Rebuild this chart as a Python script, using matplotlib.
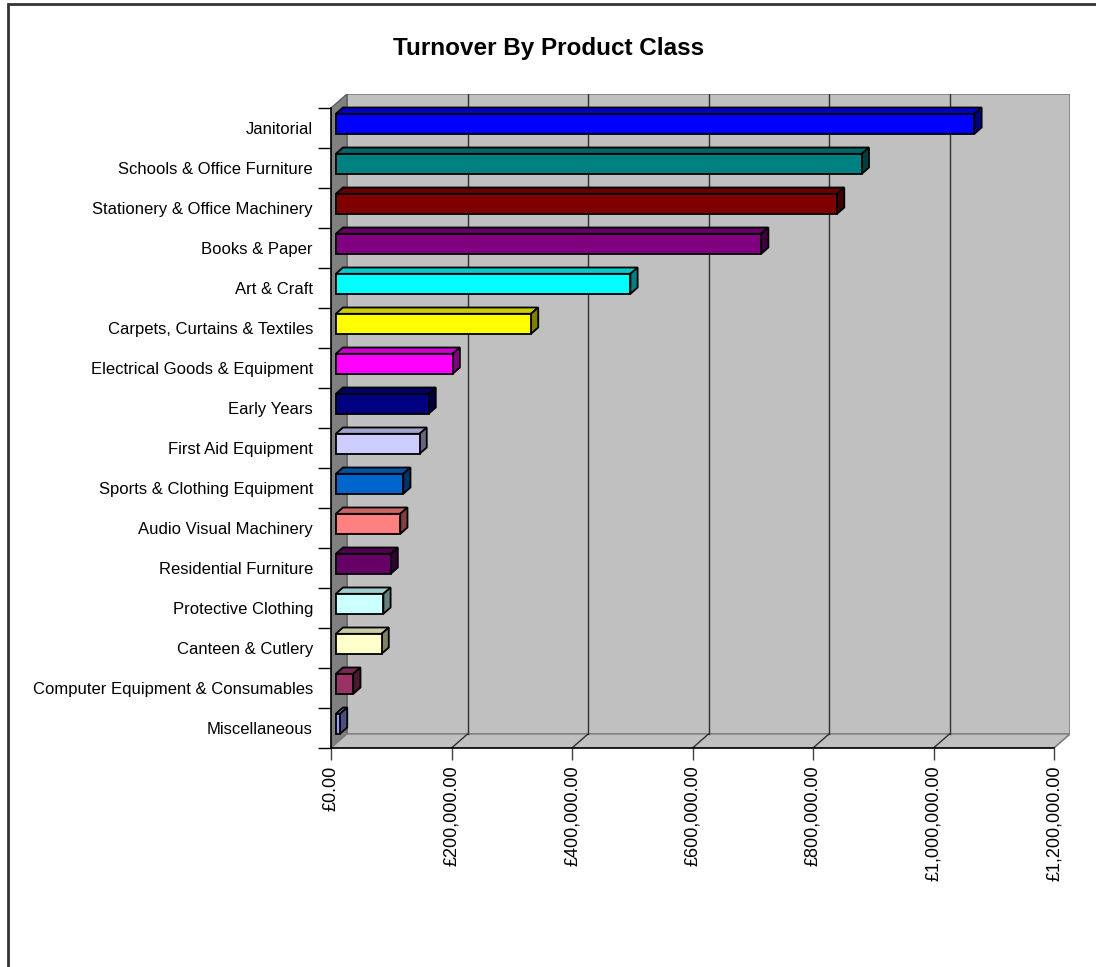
import numpy as np
import matplotlib.pyplot as plt
from matplotlib.patches import Polygon, Rectangle
from matplotlib.ticker import FuncFormatter

plt.rcParams['font.family'] = ['Liberation Sans', 'DejaVu Sans']

categories = ["Janitorial", "Schools & Office Furniture", "Stationery & Office Machinery",
              "Books & Paper", "Art & Craft", "Carpets, Curtains & Textiles",
              "Electrical Goods & Equipment", "Early Years", "First Aid Equipment",
              "Sports & Clothing Equipment", "Audio Visual Machinery", "Residential Furniture",
              "Protective Clothing", "Canteen & Cutlery", "Computer Equipment & Consumables",
              "Miscellaneous"]
turnover = [1060000, 873000, 832000, 706000, 489000, 324000, 194000, 154000,
            139000, 112000, 107000, 91000, 79000, 76000, 29000, 7000]
colors = ["#0000FF", "#008080", "#800000", "#800080", "#00FFFF", "#FFFF00", "#FF00FF",
          "#000080", "#CCCCFF", "#0066CC", "#FF8080", "#660066", "#CCFFFF", "#FFFFCC",
          "#993366", "#9999FF"]
xticks = [0, 200000, 400000, 600000, 800000, 1000000, 1200000]

W, H = 1096, 967
fig = plt.figure(figsize=(W / 100, H / 100), dpi=100)

# frame round the chart area
fig.patches.append(Rectangle((8 / W, -0.1), 1.2, 1 - 4 / H + 0.1, transform=fig.transFigure,
                             fill=False, edgecolor="#333333", linewidth=2))

xmax = xticks[-1]
n = len(categories)
# depth of the 3d box, in data units
DX = 16 * xmax / 723.0
DY = 0.35

ax = fig.add_axes([331 / W, 1 - 748 / H, 739 / W, 654 / H])
ax.set_xlim(0, xmax + DX)
ax.set_ylim(0, n + DY)
ax.patch.set_visible(False)

# walls and floor
wall = "#C0C0C0"
ax.add_patch(Polygon([(DX, DY), (xmax + DX, DY), (xmax + DX, n + DY), (DX, n + DY)],
                     closed=True, facecolor=wall, edgecolor="#808080", linewidth=1.2, zorder=0))
ax.add_patch(Polygon([(0, 0), (DX, DY), (DX, n + DY), (0, n)],
                     closed=True, facecolor="#808080", edgecolor="#606060", linewidth=1, zorder=0))
ax.add_patch(Polygon([(0, 0), (xmax, 0), (xmax + DX, DY), (DX, DY)],
                     closed=True, facecolor=wall, edgecolor="#808080", linewidth=1, zorder=0))

# gridlines on wall and floor
for v in xticks[1:-1]:
    ax.plot([v + DX, v + DX], [DY, n + DY], color="#303030", linewidth=1, zorder=1)
    ax.plot([v, v + DX], [0, DY], color="#303030", linewidth=1, zorder=1)
ax.plot([xmax, xmax + DX], [0, DY], color="#808080", linewidth=1, zorder=1)


def shade(c, k):
    c = np.array(plt.matplotlib.colors.to_rgb(c))
    return tuple(c * k)


# bars
f0, f1 = 0.3, 0.75
bh = 0.5
for i, (val, col) in enumerate(zip(turnover, colors)):
    yc = n - i - 0.5
    x0 = f0 * DX
    y0 = yc - bh / 2 + f0 * DY
    y1 = yc + bh / 2 + f0 * DY
    ddx = (f1 - f0) * DX
    ddy = (f1 - f0) * DY
    kw = dict(closed=True, edgecolor="black", linewidth=1.3, zorder=3, joinstyle="miter")
    ax.add_patch(Polygon([(x0, y1), (x0 + val, y1), (x0 + val + ddx, y1 + ddy), (x0 + ddx, y1 + ddy)],
                         facecolor=shade(col, 0.8), **kw))
    ax.add_patch(Polygon([(x0 + val, y0), (x0 + val, y1), (x0 + val + ddx, y1 + ddy), (x0 + val + ddx, y0 + ddy)],
                         facecolor=shade(col, 0.5), **kw))
    ax.add_patch(Polygon([(x0, y0), (x0 + val, y0), (x0 + val, y1), (x0, y1)],
                         facecolor=col, **kw))

# axes
for s in ["top", "right"]:
    ax.spines[s].set_visible(False)
ax.spines["left"].set_bounds(0, n)
ax.spines["bottom"].set_bounds(0, xmax)
for s in ["left", "bottom"]:
    ax.spines[s].set_color("black")
    ax.spines[s].set_linewidth(1.2)
    ax.spines[s].set_zorder(4)

ax.set_xticks(xticks)
ax.xaxis.set_major_formatter(FuncFormatter(lambda v, p: "£{:,.2f}".format(v)))
ax.tick_params(axis="x", direction="out", length=8.5, width=1, color="#404040",
               labelsize=13, labelrotation=90, pad=4)

ax.set_yticks(np.arange(n + 1))
ax.set_yticklabels([])
ax.set_yticks(np.arange(n) + 0.5, minor=True)
ax.set_yticklabels(categories[::-1], minor=True)
ax.tick_params(axis="y", which="major", direction="out", length=9.5, width=1, color="black")
ax.tick_params(axis="y", which="minor", length=0, labelsize=12, pad=13)

fig.text(549 / W, 1 - 48 / H, "Turnover By Product Class", ha="center", va="center",
         fontsize=17.5, fontweight="bold")

fig.savefig("out.png", dpi=100)
